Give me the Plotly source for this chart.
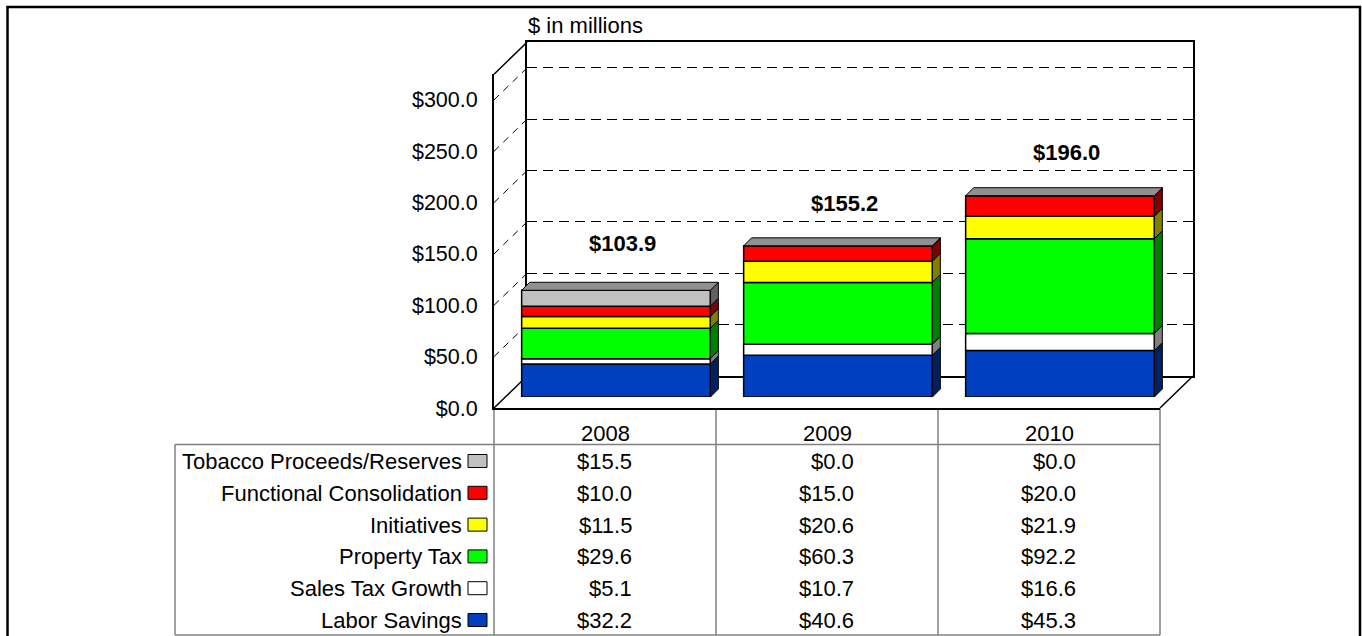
import plotly.graph_objects as go

# ---- data -------------------------------------------------------------
years = ["2008", "2009", "2010"]

labor_savings = [32.2, 40.6, 45.3]
sales_tax_growth = [5.1, 10.7, 16.6]
property_tax = [29.6, 60.3, 92.2]
initiatives = [11.5, 20.6, 21.9]
functional_consolidation = [10.0, 15.0, 20.0]
tobacco_reserves = [15.5, 0.0, 0.0]

totals = [103.9, 155.2, 196.0]

y_tick_values = [0, 50, 100, 150, 200, 250, 300]
y_tick_labels = ["$0.0", "$50.0", "$100.0", "$150.0", "$200.0", "$250.0", "$300.0"]

# stacking order, bottom to top
series = [
    ("Labor Savings", labor_savings),
    ("Sales Tax Growth", sales_tax_growth),
    ("Property Tax", property_tax),
    ("Initiatives", initiatives),
    ("Functional Consolidation", functional_consolidation),
    ("Tobacco Proceeds/Reserves", tobacco_reserves),
]

# ---- styles -----------------------------------------------------------
face_color = {
    "Labor Savings": "#0040C0",
    "Sales Tax Growth": "#FFFFFF",
    "Property Tax": "#00FF00",
    "Initiatives": "#FFFF00",
    "Functional Consolidation": "#FF0000",
    "Tobacco Proceeds/Reserves": "#C0C0C0",
}
side_color = {
    "Labor Savings": "#002060",
    "Sales Tax Growth": "#808080",
    "Property Tax": "#008000",
    "Initiatives": "#808000",
    "Functional Consolidation": "#800000",
    "Tobacco Proceeds/Reserves": "#606060",
}
top_color = "#909090"

FONT = "Liberation Sans, Arial, sans-serif"
TEXT_SIZE = 22

# ---- page geometry (pixels) ------------------------------------------
W, H = 1362, 636
PPU = 1.027              # pixels per $1M on the value axis
Y_MAX = 325
FRONT_L, FRONT_R, FLOOR_Y = 494, 1160, 408
WALL_DX, WALL_DY = 33, 32  # depth of floor / side wall
BAR_D0, BAR_D = 11, 8      # bar front offset and bar thickness
BAR_W = 0.85
CAT_PX = (FRONT_R - FRONT_L) / len(years)
label_lift = [47, 34, 43]  # total labels, pixels above bar tops
ROW_Y0, ROW_STEP = 461.5, 31.8
TABLE_L, HEADER_Y, TABLE_B = 175, 444.5, 635


def px(x):
    return x / W


def py(y):
    return 1 - y / H


xs = list(range(len(years)))
fig = go.Figure()

# invisible trace so the back-wall subplot (and its gridlines) is built
fig.add_trace(go.Scatter(
    x=xs, y=[0] * len(xs), xaxis="x2", yaxis="y2", mode="markers",
    marker=dict(opacity=0), showlegend=False, hoverinfo="skip",
))

# ---- front face of each stacked segment --------------------------------
bases = [0.0] * len(years)
seg_bounds = []
for name, vals in series:
    fig.add_trace(go.Bar(
        x=xs, y=vals, base=list(bases), width=BAR_W, name=name,
        marker=dict(color=face_color[name], line=dict(color="black", width=1.5)),
        xaxis="x3", yaxis="y3", showlegend=False, hoverinfo="skip",
    ))
    seg_bounds.append((name, list(bases), [b + v for b, v in zip(bases, vals)]))
    bases = [b + v for b, v in zip(bases, vals)]

shapes = []

# ---- bar sides and tops (extruded in the bar plane's data units) -------
dx = BAR_D / CAT_PX
dy = BAR_D / PPU
for name, lo, hi in seg_bounds:
    for i in xs:
        xr = i + BAR_W / 2
        shapes.append(dict(
            type="path", xref="x3", yref="y3",
            path=f"M {xr},{lo[i]} L {xr + dx},{lo[i] + dy} L {xr + dx},{hi[i] + dy} L {xr},{hi[i]} Z",
            fillcolor=side_color[name], line=dict(color="black", width=1),
        ))
for i in xs:
    xl, xr, t = i - BAR_W / 2, i + BAR_W / 2, bases[i]
    shapes.append(dict(
        type="path", xref="x3", yref="y3",
        path=f"M {xl},{t} L {xl + dx},{t + dy} L {xr + dx},{t + dy} L {xr},{t} Z",
        fillcolor=top_color, line=dict(color="black", width=1),
    ))

# ---- floor and side wall ----------------------------------------------
def seg(x0, y0, x1, y1, width=1.5, color="black", dash=None, layer="below"):
    d = dict(type="line", xref="paper", yref="paper",
             x0=px(x0), y0=py(y0), x1=px(x1), y1=py(y1),
             line=dict(color=color, width=width), layer=layer)
    if dash:
        d["line"]["dash"] = dash
    return d


wall_top = FLOOR_Y - Y_MAX * PPU
shapes.append(seg(FRONT_L, FLOOR_Y, FRONT_L + WALL_DX, FLOOR_Y - WALL_DY, 1.5))
shapes.append(seg(FRONT_R, FLOOR_Y, FRONT_R + WALL_DX, FLOOR_Y - WALL_DY, 1.5))
shapes.append(seg(FRONT_L, wall_top, FRONT_L + WALL_DX, wall_top - WALL_DY, 1.5))
for v in y_tick_values[1:]:
    yv = FLOOR_Y - v * PPU
    shapes.append(seg(FRONT_L, yv, FRONT_L + WALL_DX, yv - WALL_DY, 1,
                      dash="7px,6px"))

# ---- data table frame -------------------------------------------------
grey = "#808080"
shapes.append(seg(TABLE_L, HEADER_Y, FRONT_R, HEADER_Y, 1.5, grey))
shapes.append(seg(TABLE_L, HEADER_Y, TABLE_L, TABLE_B, 1.5, grey))
shapes.append(seg(TABLE_L, TABLE_B, FRONT_R, TABLE_B, 1.5, grey))
for k in range(len(years) + 1):
    xk = FRONT_L + k * CAT_PX
    shapes.append(seg(xk, FLOOR_Y, xk, TABLE_B, 1.5, grey))

# ---- outer chart border -----------------------------------------------
shapes.append(dict(type="rect", xref="paper", yref="paper",
                   x0=px(7.5), x1=px(1360), y0=py(7), y1=py(660),
                   line=dict(color="black", width=2.5), layer="below"))

annotations = []

# row labels, legend keys and table values (top row = top of stack)
rows = list(reversed(series))
for k, (name, vals) in enumerate(rows):
    ry = ROW_Y0 + k * ROW_STEP
    annotations.append(dict(
        x=px(464), y=py(ry), xref="paper", yref="paper", text=name,
        xanchor="right", yanchor="middle", showarrow=False,
        font=dict(family=FONT, size=TEXT_SIZE, color="black"),
    ))
    shapes.append(dict(type="rect", xref="paper", yref="paper",
                       x0=px(468), x1=px(487), y0=py(ry - 7), y1=py(ry + 6),
                       fillcolor=face_color[name],
                       line=dict(color="black", width=1), layer="above"))
    for i in xs:
        annotations.append(dict(
            x=i, y=py(ry), xref="x", yref="paper", text=f"${vals[i]:.1f}",
            xanchor="right", yanchor="middle", xshift=29, showarrow=False,
            font=dict(family=FONT, size=TEXT_SIZE, color="black"),
        ))

for i in xs:
    annotations.append(dict(
        x=i, y=py(433), xref="x", yref="paper", text=years[i],
        xanchor="center", yanchor="middle", showarrow=False,
        font=dict(family=FONT, size=TEXT_SIZE, color="black"),
    ))
    annotations.append(dict(
        x=i, y=totals[i], xref="x3", yref="y3", text=f"<b>${totals[i]:.1f}</b>",
        xanchor="center", yanchor="middle", xshift=6, yshift=label_lift[i],
        showarrow=False,
        font=dict(family=FONT, size=TEXT_SIZE, color="black"),
    ))

annotations.append(dict(
    x=px(526), y=py(26), xref="paper", yref="paper", text="$ in millions",
    xanchor="left", yanchor="middle", showarrow=False,
    font=dict(family=FONT, size=TEXT_SIZE, color="black"),
))

bar_floor = FLOOR_Y - BAR_D0
bar_top = bar_floor - 340 * PPU
back_floor = FLOOR_Y - WALL_DY

fig.update_layout(
    width=W, height=H,
    margin=dict(l=0, r=0, t=0, b=0, autoexpand=False),
    paper_bgcolor="white", plot_bgcolor="rgba(0,0,0,0)",
    showlegend=False, barmode="overlay",
    font=dict(family=FONT, size=TEXT_SIZE, color="black"),
    # front plane: value axis labels and floor front edge
    xaxis=dict(domain=[px(FRONT_L), px(FRONT_R)], range=[-0.5, len(years) - 0.5],
               showline=True, linecolor="black", linewidth=2,
               showticklabels=False, showgrid=False, zeroline=False,
               fixedrange=True, anchor="y"),
    yaxis=dict(domain=[py(FLOOR_Y), py(wall_top)], range=[0, Y_MAX],
               showline=True, linecolor="black", linewidth=2,
               tickvals=y_tick_values, ticktext=y_tick_labels,
               tickfont=dict(family=FONT, size=21.5, color="black"),
               ticks="", ticklabelstandoff=10,
               showgrid=False, zeroline=False, fixedrange=True, anchor="x"),
    # back wall with dashed gridlines
    xaxis2=dict(domain=[px(FRONT_L + WALL_DX), px(FRONT_R + WALL_DX)],
                range=[-0.5, len(years) - 0.5], anchor="y2",
                showline=True, mirror=True, linecolor="black", linewidth=2,
                showticklabels=False, showgrid=False, zeroline=False,
                fixedrange=True),
    yaxis2=dict(domain=[py(back_floor), py(back_floor - Y_MAX * PPU)],
                range=[0, Y_MAX], anchor="x2",
                showline=True, mirror=True, linecolor="black", linewidth=1.5,
                tickvals=y_tick_values[1:], showticklabels=False,
                showgrid=True, gridcolor="black", gridwidth=1,
                griddash="10px,6px", zeroline=False, fixedrange=True),
    # bar plane, set back from the front plane
    xaxis3=dict(domain=[px(FRONT_L + BAR_D0), px(FRONT_R + BAR_D0)],
                range=[-0.5, len(years) - 0.5], anchor="y3", visible=False,
                fixedrange=True),
    yaxis3=dict(domain=[py(bar_floor), py(bar_top)], range=[0, 340],
                anchor="x3", visible=False, fixedrange=True),
    shapes=shapes,
    annotations=annotations,
)

fig.write_html("out.html", config={"displayModeBar": False})
